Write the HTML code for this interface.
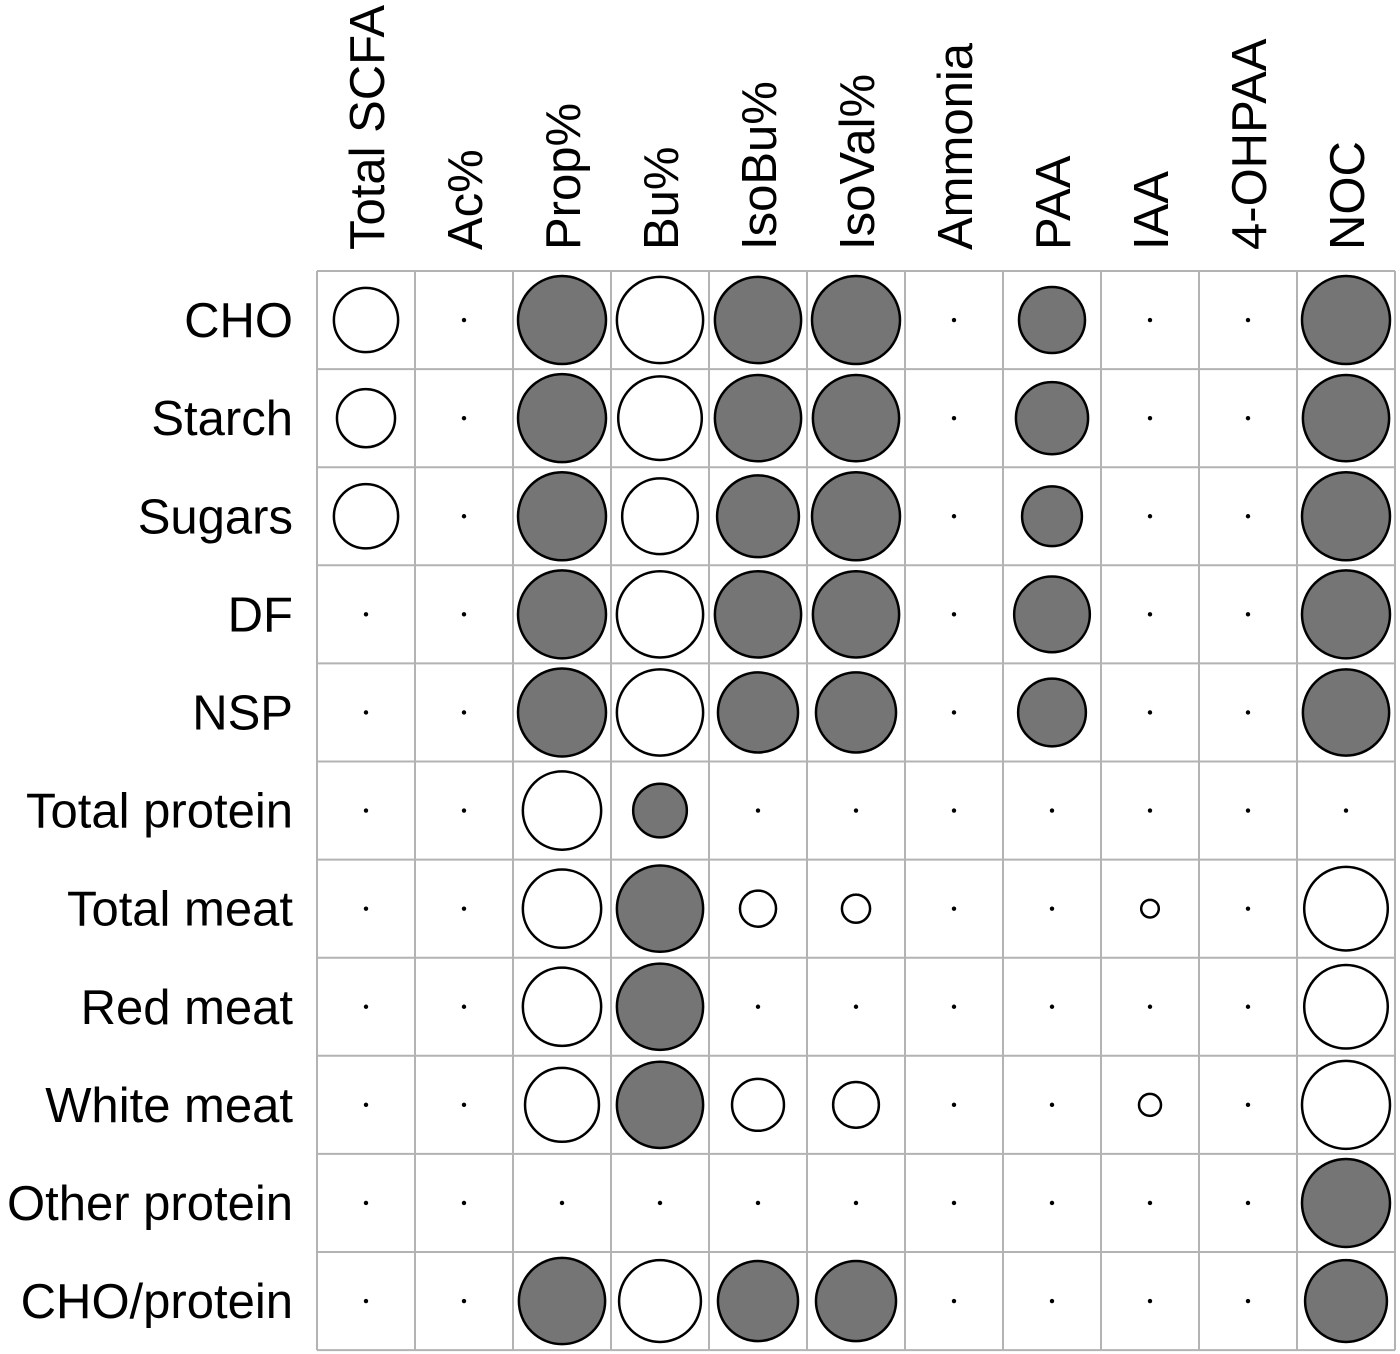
<!DOCTYPE html>
<html><head><meta charset="utf-8"><style>
html,body{margin:0;padding:0;background:#fff;}
svg{display:block;font-family:"Liberation Sans",Arial,sans-serif;}
</style></head><body>
<svg id="chart" width="1400" height="1354" viewBox="0 0 1400 1354" xmlns="http://www.w3.org/2000/svg"></svg>
<script>
const columns = ["Total SCFA","Ac%","Prop%","Bu%","IsoBu%","IsoVal%","Ammonia","PAA","IAA","4-OHPAA","NOC"];
const rows = ["CHO","Starch","Sugars","DF","NSP","Total protein","Total meat","Red meat","White meat","Other protein","CHO/protein"];
// value: sign = direction (+ grey filled, - white), magnitude = circle size (0 = dot)
const valCHO = [-0.73,0,1,-0.98,0.98,1,0,0.75,0,0,1];
const valStarch = [-0.66,0,1,-0.95,0.98,0.98,0,0.82,0,0,0.98];
const valSugars = [-0.73,0,1,-0.86,0.93,1,0,0.68,0,0,1];
const valDF = [0,0,1,-0.98,0.98,0.98,0,0.86,0,0,1];
const valNSP = [0,0,1,-0.98,0.91,0.91,0,0.77,0,0,0.98];
const valTotalProtein = [0,0,-0.89,0.61,0,0,0,0,0,0,0];
const valTotalMeat = [0,0,-0.89,0.98,-0.41,-0.32,0,0,-0.2,0,-0.95];
const valRedMeat = [0,0,-0.89,0.98,0,0,0,0,0,0,-0.95];
const valWhiteMeat = [0,0,-0.84,0.98,-0.59,-0.52,0,0,-0.25,0,-1];
const valOtherProtein = [0,0,0,0,0,0,0,0,0,0,1];
const valCHOProtein = [0,0,0.98,-0.93,0.91,0.91,0,0,0,0,0.93];
const values = [valCHO,valStarch,valSugars,valDF,valNSP,valTotalProtein,valTotalMeat,valRedMeat,valWhiteMeat,valOtherProtein,valCHOProtein];

const NS="http://www.w3.org/2000/svg";
const svg=document.getElementById('chart');
const x0=317,y0=271,cw=98,rh=98.1,maxR=44;
const xc=i=>x0+cw*(i+0.5);
const yc=j=>y0+rh*(j+0.5);
function mk(t,a){const e=document.createElementNS(NS,t);for(const k in a)e.setAttribute(k,a[k]);svg.appendChild(e);return e;}
for(let i=0;i<=columns.length;i++){
  const l=mk('line',{x1:x0+cw*i,y1:y0,x2:x0+cw*i,y2:y0+rh*rows.length,stroke:'#b3b3b3','stroke-width':2});
  
  
}
for(let j=0;j<=rows.length;j++){
  const l=mk('line',{x1:x0,y1:y0+rh*j,x2:x0+cw*columns.length,y2:y0+rh*j,stroke:'#b3b3b3','stroke-width':2});
  
  
}
columns.forEach((c,i)=>{
  const t=mk('text',{x:0,y:0,transform:`translate(${xc(i)+18},250) rotate(-90)`,'font-size':49,fill:'#000'});
  t.textContent=c;
  
  
});
rows.forEach((r,j)=>{
  const t=mk('text',{x:293,y:yc(j)+17,'font-size':49,'text-anchor':'end',fill:'#000'});
  t.textContent=r;
  
  
});
values.forEach((rowv,j)=>{
  rowv.forEach((v,i)=>{
    let c;
    if(v===0){
      c=mk('circle',{cx:xc(i),cy:yc(j),r:2.2,fill:'#000'});
    }else{
      c=mk('circle',{cx:xc(i),cy:yc(j),r:Math.abs(v)*maxR,fill:v>0?'#757575':'#fff',stroke:'#000','stroke-width':2.5});
    }
    
    
  });
});
</script>
</body></html>
